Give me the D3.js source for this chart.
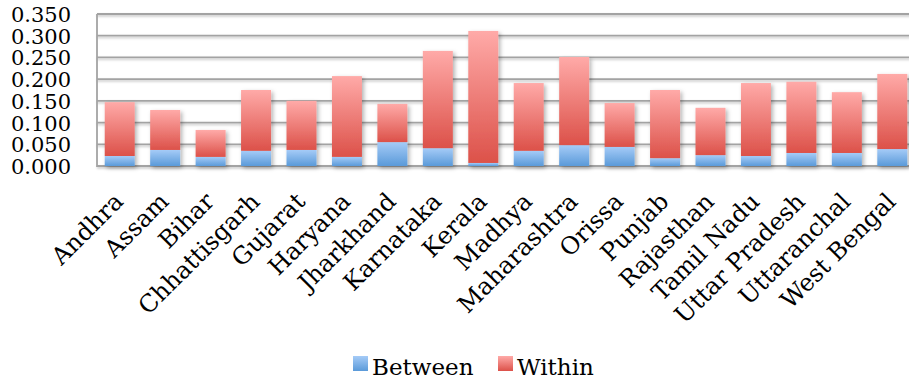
<!DOCTYPE html>
<html>
<head>
<meta charset="utf-8">
<script src="https://cdn.jsdelivr.net/npm/d3@7"></script>
<style>
  html, body { margin: 0; padding: 0; background: #fff; }
  svg { display: block; }
  text { font-family: "DejaVu Serif", "Liberation Serif", serif; fill: #000; }
</style>
</head>
<body>
<svg id="chart" width="909" height="383"></svg>
<script>
// States and the two components of the index
const states = ["Andhra", "Assam", "Bihar", "Chhattisgarh", "Gujarat", "Haryana", "Jharkhand",
  "Karnataka", "Kerala", "Madhya", "Maharashtra", "Orissa", "Punjab", "Rajasthan",
  "Tamil Nadu", "Uttar Pradesh", "Uttaranchal", "West Bengal"];
const between = [0.023, 0.037, 0.021, 0.035, 0.037, 0.021, 0.055, 0.041, 0.007, 0.035,
  0.048, 0.044, 0.018, 0.025, 0.023, 0.030, 0.030, 0.039];
const within = [0.124, 0.092, 0.062, 0.140, 0.113, 0.186, 0.088, 0.224, 0.304, 0.156,
  0.203, 0.101, 0.157, 0.109, 0.168, 0.164, 0.140, 0.173];
const yTicks = [0, 0.05, 0.10, 0.15, 0.20, 0.25, 0.30, 0.35];
const seriesNames = ["Between", "Within"];

const svg = d3.select("#chart");
const plot = { left: 97, right: 915, top: 14, bottom: 166 };

const x = d3.scaleBand().domain(states).range([plot.left, plot.right]).paddingInner(0.34).paddingOuter(0.17);
const y = d3.scaleLinear().domain([0, 0.35]).range([plot.bottom, plot.top]);

const defs = svg.append("defs");
function grad(id, c1, c2) {
  const g = defs.append("linearGradient").attr("id", id)
    .attr("x1", 0).attr("y1", 0).attr("x2", 0).attr("y2", 1);
  g.append("stop").attr("offset", "0%").attr("stop-color", c1);
  g.append("stop").attr("offset", "100%").attr("stop-color", c2);
}
grad("gBetween", "#a5cbf7", "#5a9ad9");
grad("gWithin", "#ffaaa8", "#dc5149");

const shadow = defs.append("filter").attr("id", "shadow")
  .attr("x", "-20%").attr("y", "-20%").attr("width", "150%").attr("height", "150%");
shadow.append("feDropShadow").attr("dx", 2).attr("dy", 2).attr("stdDeviation", 2)
  .attr("flood-color", "#000").attr("flood-opacity", 0.3);
const lineShadow = defs.append("filter").attr("id", "lshadow")
  .attr("filterUnits", "userSpaceOnUse")
  .attr("x", 0).attr("y", 0).attr("width", 909).attr("height", 383);
lineShadow.append("feDropShadow").attr("dx", 0).attr("dy", 1.5).attr("stdDeviation", 0.8)
  .attr("flood-color", "#000").attr("flood-opacity", 0.25);

// Gridlines
svg.append("g").attr("filter", "url(#lshadow)").selectAll("line").data(yTicks).join("line")
  .attr("x1", plot.left).attr("x2", plot.right)
  .attr("y1", d => y(d)).attr("y2", d => y(d))
  .attr("stroke", "#a3a3a3").attr("stroke-width", 1.8);
svg.append("line").attr("x1", plot.left).attr("x2", plot.left).attr("y1", plot.top).attr("y2", plot.bottom + 1)
  .attr("stroke", "#a3a3a3").attr("stroke-width", 1.8);

// Y axis
const yAxis = d3.axisLeft(y).tickValues(yTicks).tickFormat(d3.format(".3f")).tickSize(0).tickPadding(26);
const ya = svg.append("g").attr("transform", `translate(${plot.left},0)`).call(yAxis);
ya.select(".domain").remove();
ya.selectAll("text").style("font-family", "DejaVu Serif").style("font-size", "21px")
  .attr("dy", "0.36em");

// Stacked bars
const rows = states.map((s, i) => ({ state: s, Between: between[i], Within: within[i] }));
const stack = d3.stack().keys(seriesNames)(rows);
const fills = { Between: "url(#gBetween)", Within: "url(#gWithin)" };
const bars = svg.append("g");
rows.forEach((r, i) => {
  const g = bars.append("g").attr("filter", "url(#shadow)");
  stack.forEach(layer => {
    const d = layer[i];
    g.append("rect")
      .attr("x", x(r.state)).attr("width", x.bandwidth())
      .attr("y", y(d[1])).attr("height", y(d[0]) - y(d[1]))
      .attr("fill", fills[layer.key]);
  });
});

// X axis labels, slanted at 45 degrees
const xAxis = d3.axisBottom(x).tickSize(0).tickPadding(0);
const xa = svg.append("g").attr("transform", `translate(0,${plot.bottom})`).call(xAxis);
xa.select(".domain").remove();
xa.selectAll("text")
  .style("font-family", "DejaVu Serif").style("font-size", "24px")
  .attr("text-anchor", "end")
  .attr("transform", "translate(5,37) rotate(-45)")
  .attr("dy", 0).attr("y", 0).attr("x", 0);

// Legend
const legend = svg.append("g").attr("transform", "translate(353,356)");
const items = [{ k: "Between", x: 0 }, { k: "Within", x: 145 }];
items.forEach(it => {
  const g = legend.append("g").attr("transform", `translate(${it.x},0)`);
  g.append("rect").attr("width", 15).attr("height", 15).attr("fill", fills[it.k]);
  g.append("text").attr("x", 19).attr("y", 19).style("font-size", "23px").text(it.k);
});
</script>
</body>
</html>
